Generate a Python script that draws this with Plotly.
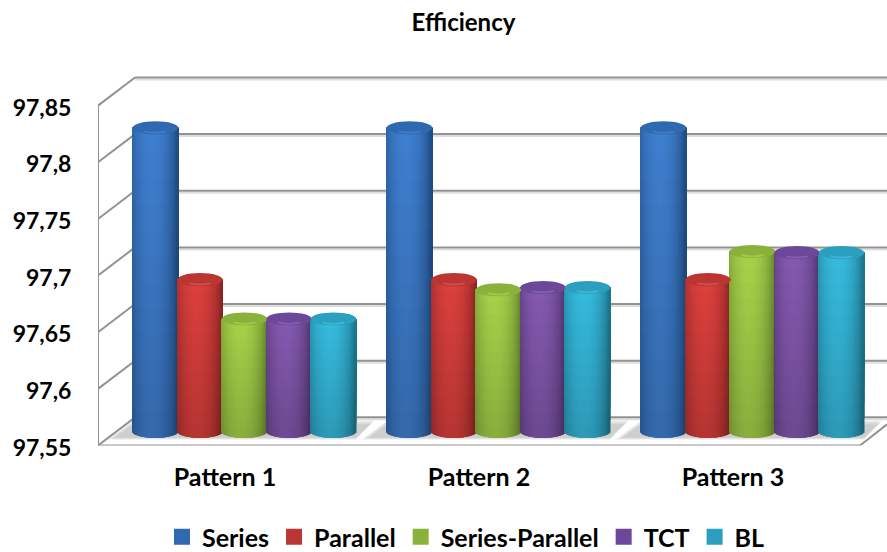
import math
import plotly.graph_objects as go

categories = ["Pattern 1", "Pattern 2", "Pattern 3"]
series_names = ["Series", "Parallel", "Series-Parallel", "TCT", "BL"]
series_a = [97.82, 97.82, 97.82]
parallel = [97.685, 97.685, 97.685]
series_parallel = [97.65, 97.676, 97.71]
tct = [97.65, 97.678, 97.709]
bl = [97.65, 97.678, 97.709]
all_values = [series_a, parallel, series_parallel, tct, bl]
y_ticks = [97.55, 97.6, 97.65, 97.7, 97.75, 97.8, 97.85]
y_tick_labels = ["97,55", "97,6", "97,65", "97,7", "97,75", "97,8", "97,85"]
light = ["#3f7fd0", "#dc403d", "#a6d34a", "#8459b0", "#36bbdf"]
dark = ["#1d4a80", "#83211f", "#64852a", "#4c3068", "#1a7288"]
cap = ["#2f69b0", "#bb3532", "#8ab23a", "#6d489a", "#2a9fc0"]
rim = ["#3f7ccb", "#d24d49", "#a0ca4c", "#8160ae", "#40b6d6"]
swatch = ["#2f69b0", "#bb3532", "#8ab23a", "#6d489a", "#2a9fc0"]

W, H = 887, 552
ML = 98
LEGEND_PUSH = 55.8      # bottom space the container-placed legend claims
AXIS_PX = 443           # pixel row of the front floor line
FRONT_PX = 338 / 0.30   # px per unit on the front plane
MID_PX = 1118           # px per unit on the mid-depth plane
DEPTH_X, DEPTH_Y = 37, 28
N_SLICES = 45
N_BANDS = 12
BAR_PX, STEP_PX = 45.5, 44.5
RY = 6.5


def hexrgb(c):
    return tuple(int(c[i:i + 2], 16) for i in (1, 3, 5))


def mix(a, b, f, shade=1.0):
    ca, cb = hexrgb(a), hexrgb(b)
    return "rgb(%d,%d,%d)" % tuple(round((x + (y - x) * f) * shade) for x, y in zip(ca, cb))


fig = go.Figure()
for s, name in enumerate(series_names):
    vals = all_values[s]
    center = (s - 2) * STEP_PX / 254
    sw = BAR_PX / 254 / N_SLICES
    # first zero-height bar only sets the legend swatch
    xs, ys, bases, widths, offs, cols = [0], [0], [97.55], [0], [0], [swatch[s]]
    lws = [4]
    lcs = [swatch[s]]
    for g, v in enumerate(vals):
        for k in range(N_SLICES):
            t = (k + 0.5) / N_SLICES * 2 - 1
            f = max(0.0, 1 - ((t + 0.12) / 1.12) ** 2) ** 0.75
            arc = math.sqrt(max(0, 1 - t * t))
            base = 97.55 - RY * arc / MID_PX
            for b in range(N_BANDS):
                start = base + (v - base) * b / N_BANDS if b else base
                xs.append(g)
                bases.append(start)
                ys.append(v - start)
                widths.append(sw * 1.5)
                offs.append(center + t * BAR_PX / 254 / 2 - sw * 0.75)
                cols.append(mix(dark[s], light[s], f, 0.82 + 0.18 * (b + 0.5) / N_BANDS))
                lws.append(0)
                lcs.append(swatch[s])
    fig.add_trace(go.Bar(
        x=xs, y=ys, base=bases, width=widths, offset=offs,
        marker=dict(color=cols, line=dict(width=lws, color=lcs)),
        xaxis="x2", yaxis="y2", name=name, hoverinfo="skip"))

shapes = []
GRID = "#939393"
SOFT = "#dedede"
dy_f = 1 / FRONT_PX
dx = 1 / 254


def X(px):
    return -0.5 + (px - ML) / 254


def Y(py):
    return 97.55 + (AXIS_PX - py) * dy_f


def line(x0, y0, x1, y1, color=GRID, w=2.0, layer="below"):
    shapes.append(dict(type="line", xref="x", yref="y", x0=x0, y0=y0, x1=x1, y1=y1,
                       line=dict(color=color, width=w), layer=layer))


xl, xr = -0.5, 2.5

# soft floor shadow of each group of cylinders
for g in range(3):
    off = g * 254
    for grow in [8, 6, 4, 2, 0]:
        p = [(115 - grow + off, 435 + grow * 0.3), (356 + off, 435 + grow * 0.3),
             (370 + grow * 0.6 + off, 422 - grow * 0.5), (133 + off, 422 - grow * 0.5)]
        path = "M" + "L".join(f"{X(a)},{Y(b)}" for a, b in p) + "Z"
        shapes.append(dict(type="path", xref="x", yref="y", layer="below",
                           fillcolor="rgba(110,110,110,0.08)", line_width=0, path=path))

# wall and floor soft shadows, then lines
for v in y_ticks:
    yb = v + DEPTH_Y * dy_f
    line(xl + DEPTH_X * dx, yb - 2 * dy_f, xr + 27 * dx, yb - 2 * dy_f, SOFT, 2)
    line(xl + DEPTH_X * dx, yb, xr + 30 * dx, yb)
    line(xl, v, xl + DEPTH_X * dx, yb)
line(xl, 97.55 - 2.2 * dy_f, xr, 97.55 - 2.2 * dy_f, SOFT, 2)
line(xl, 97.55, xl, y_ticks[-1])
line(xl, 97.55, xr, 97.55)
line(xr, 97.55, xr + 27 * dx, 97.55 + 21 * dy_f)

# cylinder caps, placed from the values on the mid-depth axes
for s in range(5):
    for g, v in enumerate(all_values[s]):
        c = g + (s - 2) * STEP_PX / 254
        hw = BAR_PX / 2 / 254
        ry = RY / MID_PX
        for fx, lo, hi, col in [(1, -1, 1, cap[s]), (0.5, -0.88, -0.2, rim[s]), (0.7, -0.6, 0.85, cap[s])]:
            shapes.append(dict(type="circle", xref="x2", yref="y2",
                               x0=c - hw * fx, x1=c + hw * fx, y0=v + ry * lo, y1=v + ry * hi,
                               fillcolor=col, line_width=0, layer="above"))

FONT = "Lato, Carlito, Calibri, sans-serif"
area_h = H - LEGEND_PUSH
DOMAIN = [(area_h - AXIS_PX) / area_h, 1]
fig.update_layout(
    width=W, height=H, margin=dict(l=ML, r=0, t=0, b=0),
    paper_bgcolor="white", plot_bgcolor="rgba(0,0,0,0)",
    barmode="overlay", shapes=shapes,
    font=dict(family=FONT, size=25, color="black", weight=700),
    title=dict(text="Efficiency", x=463.5 / W, xanchor="center", y=1 - 23 / H, yanchor="middle",
               font=dict(family=FONT, size=24, color="black", weight=700)),
    xaxis=dict(range=[-0.5, -0.5 + (W - ML) / 254], tickvals=[0, 1, 2], ticktext=categories,
               showgrid=False, zeroline=False, showline=False, ticks="outside", ticklen=10,
               tickcolor="rgba(0,0,0,0)", fixedrange=True),
    yaxis=dict(domain=DOMAIN, range=[97.55, 97.55 + AXIS_PX / FRONT_PX], tickvals=y_ticks,
               ticktext=y_tick_labels, showgrid=False, zeroline=False, showline=False,
               ticks="outside", ticklen=21, tickcolor="rgba(0,0,0,0)", fixedrange=True,
               ticklabelshift=2, tickfont=dict(family=FONT, size=23, weight=700)),
    xaxis2=dict(overlaying="x", range=[-(244.5 - ML) / 254, (W - 244.5) / 254], visible=False,
                fixedrange=True),
    yaxis2=dict(domain=DOMAIN, overlaying="y", range=[97.55 - 14 / MID_PX, 97.55 + 429 / MID_PX],
                visible=False, fixedrange=True),
    legend=dict(orientation="h", x=162 / W, xref="container", xanchor="left",
                y=(H - 514) / H, yref="container", yanchor="top",
                font=dict(family=FONT, size=25, weight=700), bgcolor="rgba(0,0,0,0)",
                itemclick=False, itemdoubleclick=False),
)
fig.write_html("out.html", config={"displayModeBar": False},
               post_script="document.body.style.margin='0';document.body.style.overflow='hidden';"
                           "var st=document.createElement('style');"
                           "st.textContent='svg text{font-variant-ligatures:none}';"
                           "document.head.appendChild(st);")
